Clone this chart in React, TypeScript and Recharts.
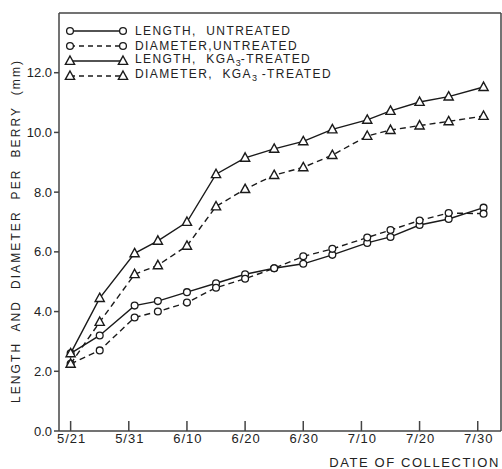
import { LineChart, Line, XAxis, YAxis, Legend } from "recharts";

// sampling day, counted from 5/21
const days = [0, 5, 11, 15, 20, 25, 30, 35, 40, 45, 51, 55, 60, 65, 71];
const lengthUntreated = [2.6, 3.2, 4.2, 4.35, 4.65, 4.95, 5.25, 5.45, 5.6, 5.9, 6.3, 6.5, 6.9, 7.1, 7.48];
const diameterUntreated = [2.25, 2.7, 3.8, 4.0, 4.3, 4.8, 5.1, 5.45, 5.85, 6.1, 6.48, 6.73, 7.05, 7.3, 7.28];
const lengthTreated = [2.6, 4.45, 5.95, 6.37, 7.0, 8.6, 9.15, 9.45, 9.7, 10.1, 10.42, 10.72, 11.02, 11.2, 11.52];
const diameterTreated = [2.25, 3.65, 5.25, 5.55, 6.2, 7.52, 8.1, 8.57, 8.83, 9.24, 9.88, 10.08, 10.23, 10.37, 10.55];

const xTicks = [0, 10, 20, 30, 40, 50, 60, 70];
const xTickLabels = ["5/21", "5/31", "6/10", "6/20", "6/30", "7/10", "7/20", "7/30"];
const yTicks = [0, 2, 4, 6, 8, 10, 12];
const yTickLabels = ["0.0", "2.0", "4.0", "6.0", "8.0", "10.0", "12.0"];

const seriesKeys = ["lu", "du", "lt", "dt"];
const seriesNames = [
  "LENGTH,  UNTREATED",
  "DIAMETER,UNTREATED",
  "LENGTH,  KGA3-TREATED",
  "DIAMETER,  KGA3 -TREATED",
];
const seriesMarkers = ["circle", "circle", "triangle", "triangle"];
const seriesDashed = [false, true, false, true];

const data = days.map((d, i) => ({
  day: d,
  lu: lengthUntreated[i],
  du: diameterUntreated[i],
  lt: lengthTreated[i],
  dt: diameterTreated[i],
}));

const INK = "#1a1a1a";
const AXIS = "#444";
const TEXT = "#222";
const FONT = "'Liberation Sans', Arial, sans-serif";

function Marker({ kind, cx, cy }: { kind: string; cx: number; cy: number }) {
  if (kind === "triangle") {
    return (
      <path
        d={`M${cx},${cy - 5} L${cx + 4.6},${cy + 3.4} L${cx - 4.6},${cy + 3.4} Z`}
        fill="#fff"
        stroke={INK}
        strokeWidth={1.4}
      />
    );
  }
  return <circle cx={cx} cy={cy} r={3.4} fill="#fff" stroke={INK} strokeWidth={1.3} />;
}

function withSub(name: string) {
  const parts = name.split("KGA3");
  if (parts.length === 1) return name;
  return (
    <>
      {parts[0]}KGA<sub style={{ fontSize: 9, verticalAlign: -3, letterSpacing: 0 }}>3</sub>
      {parts[1]}
    </>
  );
}

function LegendBox() {
  return (
    <div style={{ fontFamily: FONT, fontSize: 12, color: TEXT, letterSpacing: 1.4 }}>
      {seriesKeys.map((k, i) => (
        <div key={k} style={{ display: "flex", alignItems: "center", height: 14.8 }}>
          <svg width={73} height={14} style={{ display: "block" }}>
            <line
              x1={8}
              y1={7}
              x2={61}
              y2={7}
              stroke={INK}
              strokeWidth={1.4}
              strokeDasharray={seriesDashed[i] ? "5 4" : undefined}
            />
            <Marker kind={seriesMarkers[i]} cx={8} cy={7} />
            <Marker kind={seriesMarkers[i]} cx={61} cy={7} />
          </svg>
          <span style={{ whiteSpace: "pre", lineHeight: "14px" }}>{withSub(seriesNames[i])}</span>
        </div>
      ))}
    </div>
  );
}

function XTick(props: any) {
  const { x, y, payload } = props;
  const idx = xTicks.indexOf(payload.value);
  return (
    <g>
      <line x1={x} y1={y} x2={x} y2={y - 10} stroke={AXIS} strokeWidth={1.5} />
      <text
        x={x + 1}
        y={y + 12}
        textAnchor="middle"
        fontFamily={FONT}
        fontSize={13}
        letterSpacing={1}
        fill={TEXT}
      >
        {xTickLabels[idx]}
      </text>
    </g>
  );
}

export default function App() {
  return (
    <div style={{ position: "absolute", left: 0, top: 0, width: 502, height: 469, background: "#fff" }}>
      <LineChart width={502} height={469} data={data} margin={{ top: 12, right: 0, bottom: 0, left: 0 }}>
        <XAxis
          dataKey="day"
          type="number"
          domain={[-2, 74]}
          ticks={xTicks}
          tick={<XTick />}
          tickLine={false}
          tickSize={0}
          tickMargin={0}
          height={38}
          axisLine={{ stroke: AXIS, strokeWidth: 1.5 }}
          label={{
            content: ({ viewBox }: any) => (
              <text
                x={viewBox.x + viewBox.width - 1}
                y={viewBox.y + 36}
                textAnchor="end"
                fontFamily={FONT}
                fontSize={13}
                letterSpacing={1.6}
                fill={TEXT}
              >
                DATE OF COLLECTION
              </text>
            ),
          }}
        />
        <XAxis
          xAxisId="top"
          orientation="top"
          dataKey="day"
          type="number"
          domain={[-2, 74]}
          height={1}
          tick={false}
          tickLine={false}
          axisLine={{ stroke: AXIS, strokeWidth: 1.5 }}
        />
        <YAxis
          type="number"
          domain={[0, 14]}
          ticks={yTicks}
          width={59}
          tickSize={5}
          tickMargin={2}
          tickLine={{ stroke: AXIS, strokeWidth: 1.5 }}
          axisLine={{ stroke: AXIS, strokeWidth: 1.5 }}
          tickFormatter={(v: number) => yTickLabels[yTicks.indexOf(v)]}
          tick={{ fontFamily: FONT, fontSize: 13, fill: TEXT }}
          label={{
            content: ({ viewBox }: any) => {
              const cx = viewBox.x + 16;
              const cy = viewBox.y + viewBox.height / 2 + 9;
              return (
                <text
                  x={cx}
                  y={cy}
                  transform={`rotate(-90 ${cx} ${cy})`}
                  textAnchor="middle"
                  dominantBaseline="central"
                  fontFamily={FONT}
                  fontSize={12}
                  letterSpacing={2.1}
                  fill={TEXT}
                  style={{ whiteSpace: "pre" }}
                >
                  LENGTH  AND  DIAMETER  PER  BERRY  (mm)
                </text>
              );
            },
          }}
        />
        <YAxis
          yAxisId="right"
          orientation="right"
          type="number"
          domain={[0, 14]}
          width={1}
          tick={false}
          tickLine={false}
          axisLine={{ stroke: AXIS, strokeWidth: 1.5 }}
        />
        <Legend
          layout="horizontal"
          verticalAlign="middle"
          align="center"
          content={() => <LegendBox />}
          wrapperStyle={{ position: "absolute", top: 24, left: 62, width: 300 }}
        />
        {seriesKeys.map((k, i) => (
          <Line
            key={k}
            dataKey={k}
            name={seriesNames[i]}
            type="linear"
            stroke={INK}
            strokeWidth={1.4}
            strokeDasharray={seriesDashed[i] ? "6 4" : undefined}
            dot={(p: any) => <Marker key={`${k}-${p.index}`} kind={seriesMarkers[i]} cx={p.cx} cy={p.cy} />}
            activeDot={false}
            isAnimationActive={false}
          />
        ))}
      </LineChart>
    </div>
  );
}
